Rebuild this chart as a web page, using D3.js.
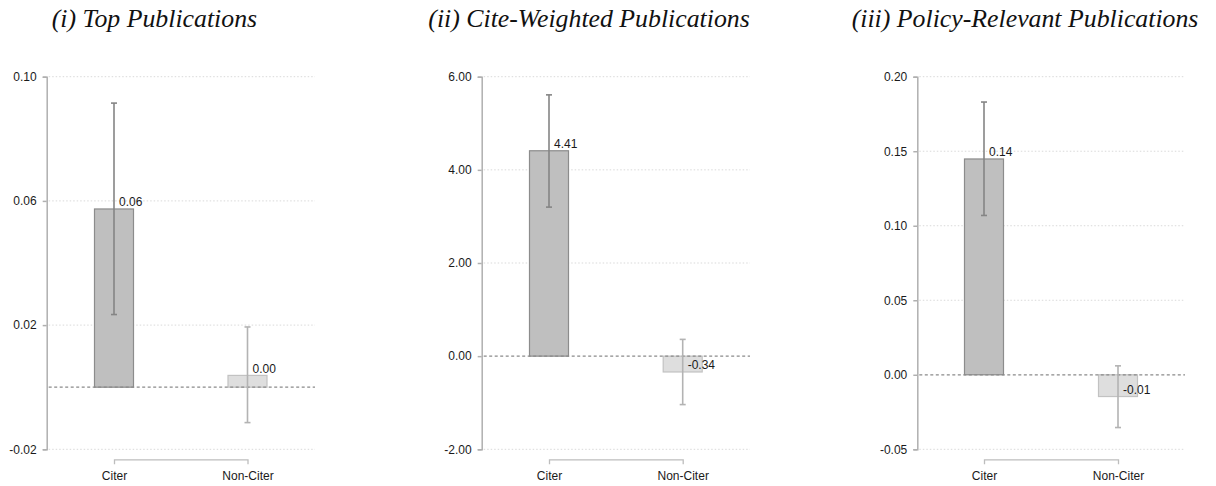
<!DOCTYPE html>
<html>
<head>
<meta charset="utf-8">
<script src="https://cdn.jsdelivr.net/npm/d3@7"></script>
<style>
  body { margin: 0; background: #fff; }
  svg { display: block; }
  .tick text { font-family: "Liberation Sans", Arial, sans-serif; }
</style>
</head>
<body>
<div id="chart"></div>
<script>
// data
var categories = ["Citer", "Non-Citer"];
var titles = ["(i) Top Publications", "(ii) Cite-Weighted Publications", "(iii) Policy-Relevant Publications"];

var topPubs = [0.0574, 0.0038];
var topLow = [0.0234, -0.0114];
var topHigh = [0.0915, 0.0194];
var topTicks = [-0.02, 0.02, 0.06, 0.10];

var citeWeighted = [4.41, -0.34];
var citeLow = [3.20, -1.04];
var citeHigh = [5.61, 0.36];
var citeTicks = [-2, 0, 2, 4, 6];

var policyPubs = [0.1448, -0.0146];
var policyLow = [0.1069, -0.0354];
var policyHigh = [0.183, 0.006];
var policyTicks = [-0.05, 0, 0.05, 0.10, 0.15, 0.20];

var panels = [
    {title: titles[0], values: topPubs, low: topLow, high: topHigh, ticks: topTicks,
     axisX: 46.7, gridEnd: 315, first: 114, last: 247.5, titleX: 51.7},
    {title: titles[1], values: citeWeighted, low: citeLow, high: citeHigh, ticks: citeTicks,
     axisX: 481.7, gridEnd: 750, first: 549, last: 682.7, titleX: 428.3},
    {title: titles[2], values: policyPubs, low: policyLow, high: policyHigh, ticks: policyTicks,
     axisX: 917.3, gridEnd: 1185, first: 984, last: 1118, titleX: 851.7}
];

var fills = ["#bfbfbf", "#dedede"];
var strokes = ["#8c8c8c", "#c2c2c2"];
var errColors = ["#858585", "#b3b3b3"];

var plotTop = 76.7, plotBottom = 449.3, barWidth = 39;
// plain hyphen for negatives, like the original
var fmt = d3.formatLocale({decimal: ".", thousands: ",", grouping: [3], currency: ["", ""], minus: "-"}).format(".2f");

var svg = d3.select("#chart").append("svg")
    .attr("width", 1216)
    .attr("height", 486);

panels.forEach(function(p) {
    var g = svg.append("g");

    var y = d3.scaleLinear()
        .domain(d3.extent(p.ticks))
        .range([plotBottom, plotTop]);
    var x = d3.scalePoint()
        .domain(categories)
        .range([p.first, p.last]);

    g.append("text")
        .attr("x", p.titleX)
        .attr("y", 27)
        .attr("font-family", "'Liberation Serif', 'Times New Roman', serif")
        .attr("font-style", "italic")
        .attr("font-size", 25.8)
        .attr("fill", "#111")
        .text(p.title);

    // dotted grid
    g.selectAll("line.grid")
        .data(p.ticks.filter(function(t) { return t !== 0; }))
        .enter().append("line")
        .attr("class", "grid")
        .attr("x1", p.axisX + 2)
        .attr("x2", p.gridEnd)
        .attr("y1", function(d) { return y(d); })
        .attr("y2", function(d) { return y(d); })
        .attr("stroke", "#d9d9d9")
        .attr("stroke-width", 1)
        .attr("stroke-dasharray", "1.5,2");

    // y axis
    var yAxis = g.append("g")
        .attr("transform", "translate(" + p.axisX + ",0)")
        .call(d3.axisLeft(y).tickValues(p.ticks).tickFormat(fmt).tickSize(4).tickPadding(6));
    yAxis.selectAll("path, line").attr("stroke", "#b0b0b0").attr("stroke-width", 1.5);
    yAxis.selectAll("text").attr("font-size", 12).attr("fill", "#1a1a1a");

    // x axis bracket
    var xAxis = g.append("g")
        .attr("transform", "translate(0,459.3)")
        .call(d3.axisBottom(x).tickSize(5).tickPadding(6));
    xAxis.selectAll("path, line").attr("stroke", "#bdbdbd").attr("stroke-width", 1.3);
    xAxis.selectAll(".tick line").remove();
    xAxis.selectAll("text").attr("font-size", 12).attr("fill", "#1a1a1a").attr("dy", "0.85em");

    // bars
    g.selectAll("rect.bar")
        .data(p.values)
        .enter().append("rect")
        .attr("class", "bar")
        .attr("x", function(d, i) { return x(categories[i]) - barWidth / 2; })
        .attr("width", barWidth)
        .attr("y", function(d) { return Math.min(y(d), y(0)); })
        .attr("height", function(d) { return Math.abs(y(d) - y(0)); })
        .attr("fill", function(d, i) { return fills[i]; })
        .attr("stroke", function(d, i) { return strokes[i]; })
        .attr("stroke-width", 1.2);

    // zero line
    g.append("line")
        .attr("x1", p.axisX + 2)
        .attr("x2", p.gridEnd)
        .attr("y1", y(0))
        .attr("y2", y(0))
        .attr("stroke", "#8a8a8a")
        .attr("stroke-width", 1.2)
        .attr("stroke-dasharray", "3,2.5");

    // error bars
    categories.forEach(function(c, i) {
        var cx = x(c);
        var eb = g.append("g").attr("stroke", errColors[i]).attr("stroke-width", 1.6);
        eb.append("line").attr("x1", cx).attr("x2", cx)
            .attr("y1", y(p.high[i])).attr("y2", y(p.low[i]));
        eb.append("line").attr("x1", cx - 3).attr("x2", cx + 3)
            .attr("y1", y(p.high[i])).attr("y2", y(p.high[i]));
        eb.append("line").attr("x1", cx - 3).attr("x2", cx + 3)
            .attr("y1", y(p.low[i])).attr("y2", y(p.low[i]));
    });

    // value labels
    g.selectAll("text.val")
        .data(p.values)
        .enter().append("text")
        .attr("class", "val")
        .attr("x", function(d, i) { return x(categories[i]) + 5; })
        .attr("y", function(d) { return y(d) - 2.5; })
        .attr("font-family", "'Liberation Sans', Arial, sans-serif")
        .attr("font-size", 12)
        .attr("fill", "#1a1a1a")
        .text(function(d) { return fmt(d); });
});
</script>
</body>
</html>
